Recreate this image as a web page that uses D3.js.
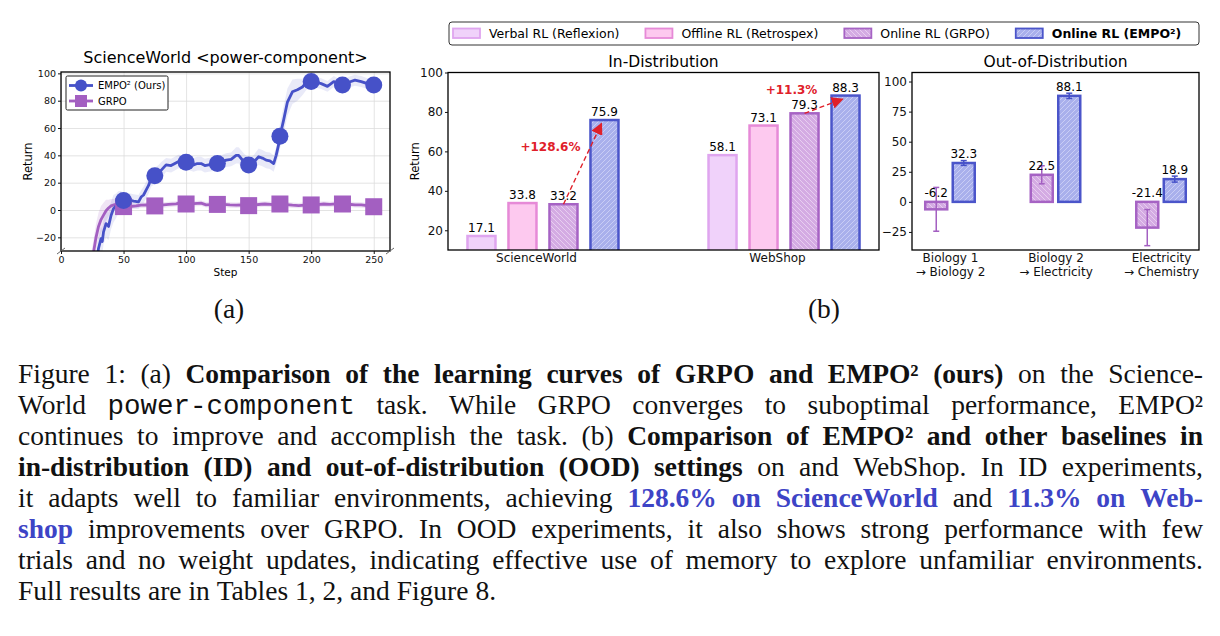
<!DOCTYPE html>
<html lang="en">
<head>
<meta charset="UTF-8">
<title>EMPO2 figure 1</title>
<script src="https://cdn.jsdelivr.net/npm/d3@7"></script>
<style>
  * { margin: 0; }
  body { background: #fff; width: 1220px; height: 636px; overflow: hidden; }
  svg { display: block; font-family: "DejaVu Sans", sans-serif; }
  .cap { font-family: "Liberation Serif", serif; font-size: 27.5px; fill: #111; }
  .mono { font-family: "Liberation Mono", monospace; }
  .axis text { fill: #111; }
  .axis line { stroke: #111; }
</style>
</head>
<body>
<div id="chart"></div>
<script>
// ---- (a) learning curves ----
const empoSteps = [28, 30, 32, 33, 34, 36, 38, 40, 42, 44, 46, 48, 50, 54, 58, 62, 64, 66, 68, 70,
  72, 75, 78, 80, 84, 88, 91, 94, 100, 103, 106, 109, 112, 115, 118, 122, 125, 128, 132, 136,
  140, 142, 146, 150, 154, 158, 161, 164, 167, 170, 172, 174, 175, 178, 181, 185, 189, 193, 197, 200,
  204, 208, 213, 218, 222, 225, 230, 235, 240, 245, 250];
const empoMean = [-40, -28, -21, -23, -16, -10, -12, -4, 1, 3, 6, 7, 7, 7.5, 6.5, 6, 9.5, 11, 14.5, 18,
  23, 25, 27, 29, 33, 32.5, 34, 35.5, 35, 34, 33, 34, 34, 32.5, 33, 33.5, 34, 35, 36.5, 37,
  40, 40, 35.5, 33, 35, 39, 38, 36.5, 36, 34, 40, 48, 54, 66, 79, 86.5, 88, 90, 94, 94,
  93.5, 92.5, 90.5, 94, 92, 91.5, 93.5, 95, 94, 92.5, 91.5];
const empoSpread = [6, 8, 9, 9, 9, 10, 10, 10, 10, 9, 8, 7, 5, 5, 5, 5, 5, 6, 6, 6,
  6, 6, 6, 6, 5, 5, 5, 5, 5, 5, 5, 5, 5, 5, 5, 5, 5, 5, 5, 5,
  6, 6, 6, 5, 5, 6, 6, 6, 6, 6, 6, 8, 9, 10, 10, 9, 8, 6, 5, 4,
  4, 4, 4, 4, 4, 4, 4, 4, 4, 4, 4];

const grpoSteps = [24, 26, 28, 30, 32, 34, 36, 38, 40, 43, 46, 50, 55, 60, 64, 68, 72, 75, 80, 86,
  92, 96, 100, 106, 112, 116, 120, 125, 130, 135, 140, 145, 150, 155, 160, 163, 170, 175, 180, 185,
  190, 195, 200, 205, 210, 215, 220, 225, 230, 235, 240, 245, 250];
const grpoMean = [-40, -31, -20, -12, -7, -3.7, -0.5, 1.5, 3, 4, 4.5, 2.5, 2.5, 3, 3.5, 3.7, 3.3, 3, 3.5, 4.1,
  4.5, 5.4, 4.4, 4.6, 5, 3.8, 4, 4.1, 4.2, 3.7, 3.5, 3.8, 3.2, 3.8, 4.2, 4.4, 4, 4.4, 4, 3.5,
  3.2, 3.6, 3.7, 4, 4.4, 4.1, 4.5, 4.4, 4.2, 3.8, 3.7, 3.2, 2.4];
const grpoSpread = [8, 9, 10, 10, 10, 9, 8, 6, 5, 4, 3, 2, 2, 2, 2, 2, 2, 2, 2, 2,
  2, 2, 2, 2, 2, 2, 2, 2, 2, 2, 2, 2, 2, 2, 2, 2, 2, 2, 2, 2,
  2, 2, 2, 2, 2, 2, 2, 2, 2, 2, 2, 2, 2];

const stepTicks = [0, 50, 100, 150, 200, 250];
const returnTicks = [-20, 0, 20, 40, 60, 80, 100];

// ---- (b) in-distribution ----
const idGroups = ['ScienceWorld', 'WebShop'];
const methods = ['Verbal RL (Reflexion)', 'Offline RL (Retrospex)', 'Online RL (GRPO)', 'Online RL (EMPO²)'];
const verbalID = [17.1, 58.1];
const offlineID = [33.8, 73.1];
const grpoID = [33.2, 79.3];
const empoID = [75.9, 88.3];
const gainText = ['+128.6%', '+11.3%'];
const gainLabelY = [60, 89];
const idTicks = [20, 40, 60, 80, 100];

// ---- (b) out-of-distribution ----
const oodTasks = [['Biology 1', '→ Biology 2'], ['Biology 2', '→ Electricity'], ['Electricity', '→ Chemistry']];
const grpoOOD = [-6.2, 22.5, -21.4];
const grpoOODErr = [18.2, 7.5, 15];
const empoOOD = [32.3, 88.1, 18.9];
const empoOODErr = [2, 2.2, 2.5];
const oodTicks = [-25, 0, 25, 50, 75, 100];

// ---- caption ----
const captionLines = [
  [['Figure 1: (a) ', ''], ['Comparison of the learning curves of GRPO and EMPO² (ours)', 'b'], [' on the Science-', '']],
  [['World ', ''], ['power-component', 'm'], [' task. While GRPO converges to suboptimal performance, EMPO²', '']],
  [['continues to improve and accomplish the task. (b) ', ''], ['Comparison of EMPO² and other baselines in', 'b']],
  [['in-distribution (ID) and out-of-distribution (OOD) settings', 'b'], [' on and WebShop. In ID experiments,', '']],
  [['it adapts well to familiar environments, achieving ', ''], ['128.6% on ScienceWorld', 'bc'], [' and ', ''], ['11.3% on Web-', 'bc']],
  [['shop', 'bc'], [' improvements over GRPO. In OOD experiments, it also shows strong performance with few', '']],
  [['trials and no weight updates, indicating effective use of memory to explore unfamiliar environments.', '']],
  [['Full results are in Tables 1, 2, and Figure 8.', '']]
];

const BLUE = '#4651c8', PURPLE = '#a35fc1', RED = '#e0202a', LINKBLUE = '#3d44c6';
const styles = [
  { fill: '#f0d2fa', stroke: '#dfa5ef', hatch: null },
  { fill: '#fdc9ef', stroke: '#e68ad7', hatch: null },
  { fill: '#d4abe3', stroke: '#a663c4', hatch: 'back', line: '#ead2f2' },
  { fill: '#a9b0ec', stroke: '#4b55ca', hatch: 'fwd', line: '#cdd0f6' }
];

const svg = d3.select('#chart').append('svg').attr('width', 1220).attr('height', 636);
svg.append('rect').attr('width', 1220).attr('height', 636).attr('fill', '#fff');
const defs = svg.append('defs');

function clipRect(id, b) {
  defs.append('clipPath').attr('id', id).append('rect')
    .attr('x', b.left).attr('y', b.top).attr('width', b.right - b.left).attr('height', b.bottom - b.top);
}

styles.forEach((s, i) => {
  if (!s.hatch) return;
  const p = defs.append('pattern').attr('id', 'hatch' + i)
    .attr('patternUnits', 'userSpaceOnUse').attr('width', 5).attr('height', 5);
  p.append('rect').attr('width', 5).attr('height', 5).attr('fill', s.fill);
  p.append('path')
    .attr('d', s.hatch === 'fwd' ? 'M0,5L5,0M-1,1L1,-1M4,6L6,4' : 'M0,0L5,5M-1,4L1,6M4,-1L6,1')
    .attr('stroke', s.line).attr('stroke-width', 0.9);
});
const fillOf = i => styles[i].hatch ? `url(#hatch${i})` : styles[i].fill;

function styleAxis(g, size) {
  g.attr('class', 'axis').attr('font-family', '"DejaVu Sans", sans-serif').attr('font-size', size);
  g.select('.domain').remove();
}

// ================= (a) =================
const a = { left: 61, right: 390, top: 72, bottom: 251 };
const xA = d3.scaleLinear().domain([0, 263]).range([a.left, a.right]);
const yA = d3.scaleLinear().domain([-30, 101]).range([a.bottom, a.top]);
clipRect('clipA', a);

svg.append('g').attr('transform', `translate(0,${a.bottom})`)
  .call(d3.axisBottom(xA).tickValues(stepTicks).tickSize(-(a.bottom - a.top)).tickFormat(''))
  .call(g => { g.select('.domain').remove(); g.selectAll('line').attr('stroke', '#dcdcdc').attr('stroke-width', 0.8); });
svg.append('g').attr('transform', `translate(${a.left},0)`)
  .call(d3.axisLeft(yA).tickValues(returnTicks).tickSize(-(a.right - a.left)).tickFormat(''))
  .call(g => { g.select('.domain').remove(); g.selectAll('line').attr('stroke', '#dcdcdc').attr('stroke-width', 0.8); });

const empoData = empoSteps.map((s, i) => ({ s, m: empoMean[i], sd: empoSpread[i] }));
const grpoData = grpoSteps.map((s, i) => ({ s, m: grpoMean[i], sd: grpoSpread[i] }));
const band = d3.area().x(d => xA(d.s)).y0(d => yA(d.m - d.sd)).y1(d => yA(d.m + d.sd));
const line = d3.line().x(d => xA(d.s)).y(d => yA(d.m));

const curves = svg.append('g').attr('clip-path', 'url(#clipA)');
curves.append('path').datum(grpoData).attr('d', band).attr('fill', PURPLE).attr('opacity', 0.16);
curves.append('path').datum(empoData).attr('d', band).attr('fill', BLUE).attr('opacity', 0.12);
curves.append('path').datum(grpoData).attr('d', line).attr('fill', 'none')
  .attr('stroke', PURPLE).attr('stroke-width', 2.8).attr('stroke-linejoin', 'round');
const isMark = d => d.s >= 50 && d.s % 25 === 0;
svg.append('g').selectAll('rect').data(grpoData.filter(isMark)).join('rect')
  .attr('x', d => xA(d.s) - 8.5).attr('y', d => yA(d.m) - 8.5).attr('width', 17).attr('height', 17)
  .attr('fill', PURPLE);
curves.append('path').datum(empoData).attr('d', line).attr('fill', 'none')
  .attr('stroke', BLUE).attr('stroke-width', 2.8).attr('stroke-linejoin', 'round');
svg.append('g').selectAll('circle').data(empoData.filter(isMark)).join('circle')
  .attr('cx', d => xA(d.s)).attr('cy', d => yA(d.m)).attr('r', 8.5).attr('fill', BLUE);

svg.append('rect').attr('x', a.left).attr('y', a.top).attr('width', a.right - a.left).attr('height', a.bottom - a.top)
  .attr('fill', 'none').attr('stroke', '#000').attr('stroke-width', 1.3);
svg.append('g').attr('transform', `translate(0,${a.bottom})`)
  .call(d3.axisBottom(xA).tickValues(stepTicks).tickSize(3).tickPadding(2))
  .call(g => styleAxis(g, 9.5));
svg.append('g').attr('transform', `translate(${a.left},0)`)
  .call(d3.axisLeft(yA).tickValues(returnTicks).tickSize(3).tickPadding(2))
  .call(g => styleAxis(g, 9.5));
// broken-axis marks
[a.left, a.right].forEach(x => svg.append('line')
  .attr('x1', x - 4).attr('y1', a.bottom + 3).attr('x2', x + 4).attr('y2', a.bottom - 3)
  .attr('stroke', '#666').attr('stroke-width', 1));

svg.append('text').attr('x', (a.left + a.right) / 2).attr('y', 63).attr('text-anchor', 'middle')
  .attr('font-size', 16).text('ScienceWorld <power-component>');
svg.append('text').attr('x', (a.left + a.right) / 2).attr('y', 276).attr('text-anchor', 'middle')
  .attr('font-size', 10.5).text('Step');
svg.append('text').attr('transform', `translate(32,${(a.top + a.bottom) / 2}) rotate(-90)`)
  .attr('text-anchor', 'middle').attr('font-size', 11.5).text('Return');

const legA = svg.append('g');
legA.append('rect').attr('x', 66).attr('y', 76).attr('width', 102).attr('height', 34)
  .attr('fill', '#fff').attr('stroke', '#222').attr('stroke-width', 1).attr('rx', 1.5);
[[BLUE, 'EMPO² (Ours)', 'c'], [PURPLE, 'GRPO', 's']].forEach(([col, lab, shape], i) => {
  const y = 85.5 + i * 15.5;
  legA.append('line').attr('x1', 69).attr('x2', 93).attr('y1', y).attr('y2', y).attr('stroke', col).attr('stroke-width', 2.8);
  if (shape === 'c') legA.append('circle').attr('cx', 81).attr('cy', y).attr('r', 6).attr('fill', col);
  else legA.append('rect').attr('x', 75).attr('y', y - 6).attr('width', 12).attr('height', 12).attr('fill', col);
  legA.append('text').attr('x', 98).attr('y', y + 3.5).attr('font-size', 10).text(lab);
});

// ================= (b) legend =================
const legB = svg.append('g');
legB.append('rect').attr('x', 449).attr('y', 22).attr('width', 750).attr('height', 23)
  .attr('fill', '#fff').attr('stroke', '#333').attr('stroke-width', 1).attr('rx', 3);
let lx = 453;
methods.forEach((m, i) => {
  legB.append('rect').attr('x', lx).attr('y', 28.5).attr('width', 27).attr('height', 9.5)
    .attr('fill', fillOf(i)).attr('stroke', styles[i].stroke).attr('stroke-width', 1.8);
  const t = legB.append('text').attr('x', lx + 36).attr('y', 38).attr('font-size', 12.5)
    .attr('font-weight', i === 3 ? 'bold' : null).text(m);
  lx += 36 + t.node().getComputedTextLength() + 26;
});

// ================= (b) in-distribution =================
const id = { left: 448, right: 879, top: 72.5, bottom: 250 };
const xID = d3.scalePoint().domain(idGroups).range([id.left, id.right]).padding(0.394);
const inID = d3.scaleBand().domain(methods).range([-82, 82]).paddingInner(0.317).paddingOuter(0.1585);
const yID = d3.scaleLinear().domain([10, 100]).range([id.bottom, id.top]);
clipRect('clipID', id);
const idSeries = [verbalID, offlineID, grpoID, empoID];
const idBars = idSeries.flatMap((vals, i) => vals.map((v, j) => ({ i, g: idGroups[j], v })));
const bx = d => xID(d.g) + inID(methods[d.i]);

svg.append('g').attr('clip-path', 'url(#clipID)').selectAll('rect').data(idBars).join('rect')
  .attr('x', bx).attr('y', d => yID(d.v)).attr('width', inID.bandwidth())
  .attr('height', d => yID(0) - yID(d.v))
  .attr('fill', d => fillOf(d.i)).attr('stroke', d => styles[d.i].stroke).attr('stroke-width', 2.5);
svg.append('g').selectAll('text').data(idBars).join('text')
  .attr('x', d => bx(d) + inID.bandwidth() / 2).attr('y', d => yID(d.v) - 4)
  .attr('text-anchor', 'middle').attr('font-size', 12).text(d => d.v.toFixed(1));

svg.append('rect').attr('x', id.left).attr('y', id.top).attr('width', id.right - id.left).attr('height', id.bottom - id.top)
  .attr('fill', 'none').attr('stroke', '#000').attr('stroke-width', 1.3);
svg.append('g').attr('transform', `translate(${id.left},0)`)
  .call(d3.axisLeft(yID).tickValues(idTicks).tickSize(3).tickPadding(2))
  .call(g => styleAxis(g, 12));
svg.append('g').attr('transform', `translate(0,${id.bottom})`)
  .call(d3.axisBottom(xID).tickSize(0).tickPadding(3))
  .call(g => { styleAxis(g, 12); g.selectAll('text').attr('dx', -7); });

// improvement arrows
const arrowHead = defs.append('marker').attr('id', 'arrowRed').attr('viewBox', '0 0 10 10')
  .attr('refX', 9).attr('refY', 5).attr('markerWidth', 12).attr('markerHeight', 12)
  .attr('markerUnits', 'userSpaceOnUse').attr('orient', 'auto');
arrowHead.append('path').attr('d', 'M0,0L10,5L0,10Z').attr('fill', RED);
idGroups.forEach((g, j) => {
  const x0 = xID(g) + inID(methods[2]) + inID.bandwidth() / 2;
  const x1 = xID(g) + inID(methods[3]) + inID.bandwidth() / 2 - 3;
  svg.append('line').attr('x1', x0).attr('y1', yID(grpoID[j])).attr('x2', x1).attr('y2', yID(empoID[j]) + 3.5)
    .attr('stroke', RED).attr('stroke-width', 1.4).attr('stroke-dasharray', '5,3')
    .attr('marker-end', 'url(#arrowRed)');
  svg.append('text').attr('x', x0 - 13).attr('y', yID(gainLabelY[j])).attr('text-anchor', 'middle')
    .attr('font-size', 12).attr('font-weight', 'bold').attr('fill', RED).text(gainText[j]);
});

svg.append('text').attr('x', (id.left + id.right) / 2).attr('y', 67).attr('text-anchor', 'middle')
  .attr('font-size', 15.5).text('In-Distribution');
svg.append('text').attr('transform', `translate(419,${(id.top + id.bottom) / 2}) rotate(-90)`)
  .attr('text-anchor', 'middle').attr('font-size', 11.5).text('Return');

// ================= (b) out-of-distribution =================
const ood = { left: 912, right: 1199, top: 72.5, bottom: 250 };
const xOOD = d3.scalePoint().domain(d3.range(oodTasks.length)).range([ood.left, ood.right]).padding(0.36);
const inOOD = d3.scaleBand().domain([2, 3]).range([-27.5, 27.5]).paddingInner(0.2).paddingOuter(0.1);
const yOOD = d3.scaleLinear().domain([-40, 107.5]).range([ood.bottom, ood.top]);
clipRect('clipOOD', ood);
const oodBars = [[2, grpoOOD, grpoOODErr], [3, empoOOD, empoOODErr]]
  .flatMap(([i, vals, errs]) => vals.map((v, k) => ({ i, k, v, e: errs[k] })));
const ox = d => xOOD(d.k) + inOOD(d.i);

svg.append('g').attr('clip-path', 'url(#clipOOD)').selectAll('rect').data(oodBars).join('rect')
  .attr('x', ox).attr('y', d => yOOD(Math.max(d.v, 0))).attr('width', inOOD.bandwidth())
  .attr('height', d => Math.abs(yOOD(d.v) - yOOD(0)))
  .attr('fill', d => fillOf(d.i)).attr('stroke', d => styles[d.i].stroke).attr('stroke-width', 2.5);
const err = svg.append('g').selectAll('g').data(oodBars).join('g')
  .attr('stroke', d => d.i === 2 ? PURPLE : BLUE).attr('stroke-width', 1.5);
const cx = d => ox(d) + inOOD.bandwidth() / 2;
err.append('line').attr('x1', cx).attr('x2', cx).attr('y1', d => yOOD(d.v - d.e)).attr('y2', d => yOOD(d.v + d.e));
err.append('line').attr('x1', d => cx(d) - 3).attr('x2', d => cx(d) + 3).attr('y1', d => yOOD(d.v - d.e)).attr('y2', d => yOOD(d.v - d.e));
err.append('line').attr('x1', d => cx(d) - 3).attr('x2', d => cx(d) + 3).attr('y1', d => yOOD(d.v + d.e)).attr('y2', d => yOOD(d.v + d.e));
svg.append('g').selectAll('text').data(oodBars).join('text')
  .attr('x', cx).attr('y', d => yOOD(Math.max(d.v, 0)) - 5)
  .attr('text-anchor', 'middle').attr('font-size', 12).text(d => d.v.toFixed(1));

svg.append('rect').attr('x', ood.left).attr('y', ood.top).attr('width', ood.right - ood.left).attr('height', ood.bottom - ood.top)
  .attr('fill', 'none').attr('stroke', '#000').attr('stroke-width', 1.3);
svg.append('g').attr('transform', `translate(${ood.left},0)`)
  .call(d3.axisLeft(yOOD).tickValues(oodTicks).tickSize(3).tickPadding(2))
  .call(g => styleAxis(g, 12));
svg.append('g').attr('transform', `translate(0,${ood.bottom})`)
  .call(d3.axisBottom(xOOD).tickSize(0).tickPadding(3))
  .call(g => {
    styleAxis(g, 12);
    g.selectAll('.tick text').each(function (k) {
      const t = d3.select(this).text(null).attr('dy', null);
      t.append('tspan').attr('x', 0).attr('dy', '0.71em').text(oodTasks[k][0]);
      t.append('tspan').attr('x', 0).attr('dy', '1.2em').text(oodTasks[k][1]);
    });
  });
svg.append('text').attr('x', (ood.left + ood.right) / 2).attr('y', 67).attr('text-anchor', 'middle')
  .attr('font-size', 15.5).text('Out-of-Distribution');

// ================= sub-captions and caption =================
svg.append('text').attr('class', 'cap').attr('x', 229).attr('y', 318).attr('text-anchor', 'middle').text('(a)');
svg.append('text').attr('class', 'cap').attr('x', 824).attr('y', 318).attr('text-anchor', 'middle').text('(b)');

const capLeft = 18, capRight = 1203;
const capG = svg.append('g');
function setLine(runs, y, justify) {
  const words = [];
  let cur = [];
  runs.forEach(([t, s]) => {
    t.split(' ').forEach((p, i) => {
      if (i > 0 && cur.length) { words.push(cur); cur = []; }
      if (p) cur.push([p, s]);
    });
  });
  if (cur.length) words.push(cur);
  const nodes = words.map(w => {
    const t = capG.append('text').attr('class', 'cap').attr('y', y);
    w.forEach(([p, s]) => {
      const ts = t.append('tspan').text(p);
      if (s.includes('b')) ts.attr('font-weight', 'bold');
      if (s.includes('c')) ts.attr('fill', LINKBLUE);
      if (s.includes('m')) ts.attr('class', 'mono');
    });
    return t;
  });
  const widths = nodes.map(n => n.node().getComputedTextLength());
  const gap = justify ? (capRight - capLeft - d3.sum(widths)) / (nodes.length - 1) : 6.9;
  let x = capLeft;
  nodes.forEach((n, i) => { n.attr('x', x); x += widths[i] + gap; });
}
captionLines.forEach((runs, i) => setLine(runs, 383 + i * 31, i < captionLines.length - 1));
</script>
</body>
</html>
